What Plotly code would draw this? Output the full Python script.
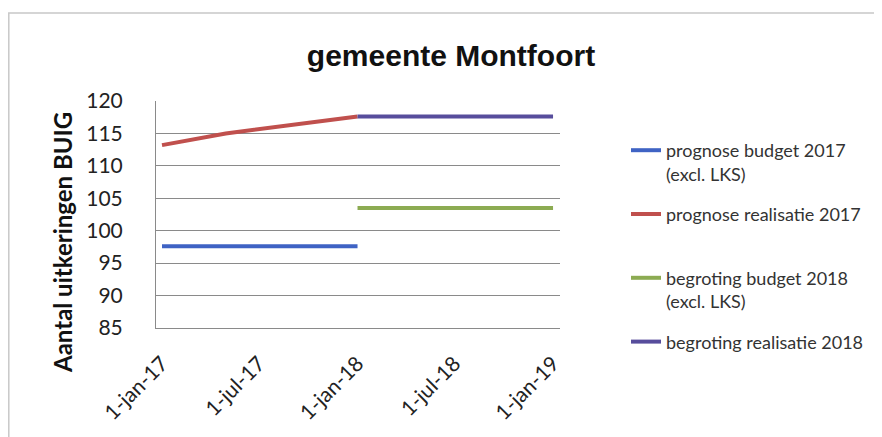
import plotly.graph_objects as go

# series values
budget17_x = ["2017-01-01", "2018-01-01"]
budget17_y = [97.6, 97.6]

real17_x = ["2017-01-01", "2017-04-30", "2018-01-01"]
real17_y = [113.2, 115.0, 117.6]

budget18_x = ["2018-01-01", "2019-01-01"]
budget18_y = [103.5, 103.5]

real18_x = ["2018-01-01", "2019-01-01"]
real18_y = [117.6, 117.6]

tick_dates = ["2017-01-01", "2017-07-01", "2018-01-01", "2018-07-01", "2019-01-01"]
tick_labels = ["1-jan-17", "1-jul-17", "1-jan-18", "1-jul-18", "1-jan-19"]

FONT = "Lato, 'Open Sans', sans-serif"
OFF = 8                     # the page body adds an 8px margin round the figure
W, H = 882 - OFF, 437 - OFF
# plot area on screen: 156..560 x 101..328
L, T = 156 - OFF, 101 - OFF
R, B = W - (560 - OFF), H - (328 - OFF)
GRID = "#8a8a8a"

series = [
    ("prognose budget 2017<br>(excl. LKS)", budget17_x, budget17_y, "#3f63c4"),
    ("prognose realisatie 2017<br> ", real17_x, real17_y, "#c0504d"),
    ("begroting budget 2018<br>(excl. LKS)", budget18_x, budget18_y, "#8cab52"),
    ("begroting realisatie 2018<br> ", real18_x, real18_y, "#574d9c"),
]

fig = go.Figure()
for i, (name, xs, ys, col) in enumerate(series):
    fig.add_trace(go.Scatter(
        x=xs, y=ys, name=name, mode="lines", legendgroup=f"g{i}",
        line=dict(color=col, width=4),
    ))

pw, ph = W - L - R, H - T - B


def px(x):   # screen x -> paper x
    return (x - OFF - L) / pw


def py(y):   # screen y -> paper y
    return (T + ph - (y - OFF)) / ph


# light grey outer frame of the chart object
fig.add_shape(type="rect", xref="paper", yref="paper",
              x0=px(OFF + 0.8), x1=px(900), y0=py(460), y1=py(13),
              line=dict(color="#c8c8c8", width=1.5), layer="below")

# y axis title placed as in the original (sits a bit below the plot centre)
fig.add_annotation(text="<b>Aantal uitkeringen BUIG</b>", textangle=-90,
                   xref="paper", yref="paper", x=px(62), y=py(243),
                   xanchor="center", yanchor="middle", showarrow=False,
                   font=dict(family=FONT, size=24, color="#111"))

fig.update_layout(
    width=W, height=H,
    margin=dict(l=L, r=R, t=T, b=B),
    paper_bgcolor="white", plot_bgcolor="white",
    font=dict(family=FONT, color="#222"),
    title=dict(text="<b>gemeente Montfoort</b>", x=(451 - OFF) / W, xanchor="center",
               y=1 - (55 - OFF) / H, yanchor="middle",
               font=dict(family="Liberation Sans, Arial, sans-serif", size=30, color="#111")),
    xaxis=dict(
        type="date", range=["2016-12-20T19:00", "2019-01-14"],
        tickmode="array", tickvals=tick_dates, ticktext=tick_labels,
        tickangle=-45, tickfont=dict(size=21, color="#222"),
        showgrid=False, showline=True, linecolor=GRID, linewidth=1,
        zeroline=False, ticks="",
        ticklabelstandoff=14, automargin=False,
    ),
    yaxis=dict(
        range=[85, 120], dtick=5, tick0=85,
        tickfont=dict(size=21, color="#222"),
        showgrid=True, gridcolor=GRID, gridwidth=1,
        showline=True, linecolor=GRID, linewidth=1,
        zeroline=False, ticks="", ticklabelstandoff=28,
        automargin=False,
    ),
    legend=dict(
        x=(626 - OFF) / W, xref="container", y=1 - (132 - OFF) / H, yref="container",
        xanchor="left", yanchor="top",
        font=dict(size=18, color="#333"),
        tracegroupgap=14, valign="top", maxheight=420,
        bgcolor="rgba(0,0,0,0)",
    ),
)

fig.write_html("out.html")
